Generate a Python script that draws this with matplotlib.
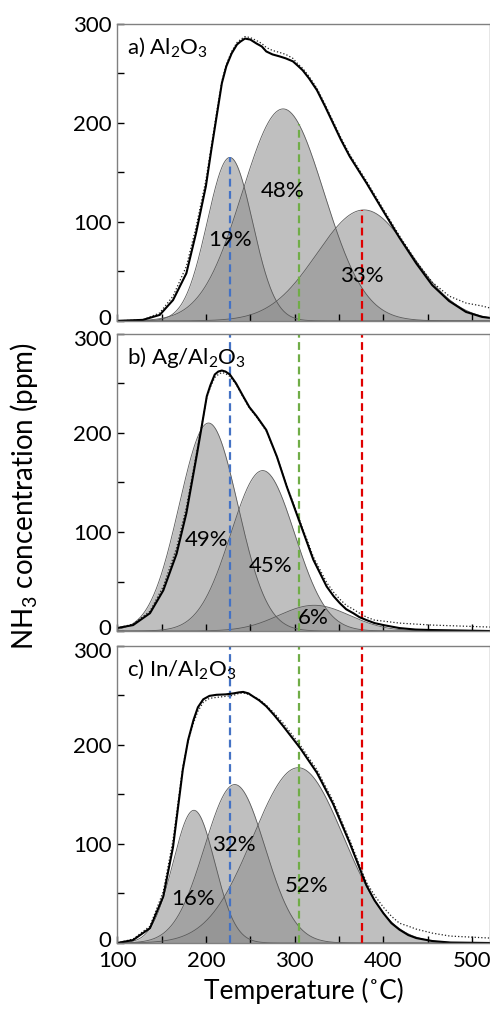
import numpy as np
import matplotlib.pyplot as plt
from matplotlib.transforms import offset_copy

plt.rcParams['font.family'] = ['Lato', 'DejaVu Sans']
plt.rcParams['mathtext.fontset'] = 'custom'
plt.rcParams['mathtext.rm'] = 'Lato'
plt.rcParams['mathtext.it'] = 'Lato:italic'

# ---------------- data ----------------
panel_titles = ['a) Al$_2$O$_3$', 'b) Ag/Al$_2$O$_3$', 'c) In/Al$_2$O$_3$']

# gaussian components: centre (C), height (ppm), sigma (C)
a_centers = [227, 287, 378]
a_heights = [165, 214, 112]
a_sigmas = [25.5, 46, 53]
a_shares = ['19%', '48%', '33%']
a_label_xy = [(227, 82), (286, 131), (376, 45)]

b_centers = [203, 264, 322]
b_heights = [210, 162, 26]
b_sigmas = [33, 36, 40]
b_shares = ['49%', '45%', '6%']
b_label_xy = [(201, 92), (273, 66), (321, 13)]

c_centers = [186.5, 232.5, 304]
c_heights = [134, 160, 177]
c_sigmas = [23.5, 34, 51]
c_shares = ['16%', '32%', '52%']
c_label_xy = [(186, 44), (232, 99), (313, 58)]

# total fit curve (solid) and measured signal (dotted)
a_T = [100, 129, 148, 163, 178, 189, 200, 206, 212, 218, 223, 229, 235, 239, 244,
       250, 257, 263, 268, 275, 283, 290, 298, 303, 309, 316, 325, 334, 343, 352,
       362, 381, 399, 418, 437, 455, 474, 493, 511, 520]
a_fit = [0, 1, 6, 21, 48, 89, 136, 172, 206, 240, 257, 270, 279, 282, 285,
         284, 280, 277, 272, 269, 267, 265, 262, 258, 253, 245, 233, 217, 200, 183,
         166, 139, 112, 84, 58, 36, 20, 9, 4, 3]
a_meas = [0, 1, 8, 25, 55, 95, 142, 176, 210, 242, 259, 272, 281, 284, 287,
          286, 283, 280, 276, 273, 271, 269, 265, 260, 255, 247, 235, 219, 202, 185,
          168, 141, 114, 86, 60, 39, 25, 18, 15, 13]

b_T = [100, 118, 137, 152, 167, 178, 190, 195, 201, 205, 210, 214, 218, 222, 227,
       234, 242, 249, 257, 268, 280, 291, 306, 321, 336, 344, 351, 358, 366, 373,
       381, 390, 400, 418, 436, 455, 520]
b_fit = [3, 6, 18, 41, 78, 119, 179, 205, 237, 248, 259, 262, 263, 262, 259,
         250, 237, 226, 217, 203, 176, 146, 109, 72, 45, 35, 28, 22, 18, 14,
         11, 8, 6, 3, 1.5, 1, 0]
b_meas = [3, 7, 20, 45, 84, 125, 182, 206, 236, 246, 256, 259, 261, 260, 257,
          249, 236, 225, 216, 202, 176, 147, 111, 75, 49, 39, 32, 26, 22, 18,
          14, 11, 10, 8, 7, 6, 4]

c_T = [100, 118, 137, 152, 163, 174, 180, 186, 191, 197, 204, 212, 222, 231, 237,
       242, 248, 253, 260, 268, 277, 287, 306, 325, 343, 362, 376, 381, 390, 400,
       409, 418, 428, 437, 455, 475, 520]
c_fit = [0, 3, 15, 47, 97, 175, 205, 225, 238, 246, 249.5, 250.6, 251, 252, 253,
         253.5, 252, 249, 245, 239, 230, 219, 197, 172, 141, 101, 69, 58, 43, 30,
         20, 13.5, 8, 5, 2, 0.5, 0]
c_meas = [0, 4, 17, 52, 104, 178, 204, 222, 234, 243, 247, 248, 249, 250, 252,
          252.5, 251, 249, 246, 240, 232, 222, 200, 175, 144, 104, 72, 61, 48, 36,
          27, 20, 17, 14, 10, 7, 5]

# reference desorption temperatures (dashed lines)
ref_T = [227, 304.5, 376]
ref_colors = ['#4472c4', '#70ad47', '#e00000']
a_ref_tops = [165, 199, 112]
bc_ref_tops = [300, 300, 300]

panels = [
    (a_centers, a_heights, a_sigmas, a_shares, a_label_xy, a_T, a_fit, a_meas, a_ref_tops),
    (b_centers, b_heights, b_sigmas, b_shares, b_label_xy, b_T, b_fit, b_meas, bc_ref_tops),
    (c_centers, c_heights, c_sigmas, c_shares, c_label_xy, c_T, c_fit, c_meas, bc_ref_tops),
]

# ---------------- figure ----------------
fig = plt.figure(figsize=(4.9, 10.09), dpi=100)
left, width, height = 0.239, 0.761, 0.2945
bottoms = [0.682, 0.3746, 0.0654]

T = np.linspace(100, 520, 600)
axes = []
for i, (cen, hgt, sig, shares, lab_xy, tT, fit, meas, tops) in enumerate(panels):
    ax = fig.add_axes([left, bottoms[i], width, height], sharex=axes[0] if axes else None)
    axes.append(ax)

    for c, h, s in zip(cen, hgt, sig):
        g = h * np.exp(-(T - c) ** 2 / (2 * s ** 2))
        ax.fill_between(T, 0, g, color='#8c8c8c', alpha=0.55, lw=0)
        ax.plot(T, g, color='#5a5a5a', lw=0.6)

    for x, top, col in zip(ref_T, tops, ref_colors):
        ax.plot([x, x], [0, top], color=col, lw=1.6, linestyle=(0, (3.5, 2)))

    ax.plot(tT, meas, color='#222222', lw=0.9, linestyle=':')
    ax.plot(tT, fit, color='black', lw=1.5)

    for txt, (x, y) in zip(shares, lab_xy):
        ax.text(x, y, txt, ha='center', va='center', fontsize=16)

    ax.text(0.027, 0.922, panel_titles[i], transform=ax.transAxes,
            ha='left', va='center', fontsize=16)

    ax.set_xlim(100, 520)
    ax.set_ylim(0, 300)
    ax.set_yticks([0, 100, 200, 300])
    ax.set_yticks([50, 150, 250], minor=True)
    ax.set_xticks([100, 200, 300, 400, 500])
    ax.set_xticks([150, 250, 350, 450], minor=True)
    ax.tick_params(which='both', direction='in', length=5, width=1, labelsize=16, pad=4)
    ax.tick_params(axis='x', pad=6)
    for sp in ax.spines.values():
        sp.set_color('#808080')
        sp.set_linewidth(1)
    if i < 2:
        ax.tick_params(labelbottom=False)

axes[-1].set_xlabel('Temperature (˚C)', fontsize=19, labelpad=5)
fig.text(0.05, 0.508, 'NH$_3$ concentration (ppm)', rotation=90,
         ha='center', va='center', fontsize=20)

# nudge the '0' / '300' labels where two panels meet so they do not collide
fig.canvas.draw()
for i, ax in enumerate(axes):
    ticks = ax.yaxis.get_major_ticks()
    lab = ticks[0].label1
    lab.set_transform(offset_copy(lab.get_transform(), fig=fig, y=4, units='dots'))
    if i > 0:
        lab = ticks[-1].label1
        lab.set_transform(offset_copy(lab.get_transform(), fig=fig, y=-4, units='dots'))

fig.savefig('out.png', dpi=100)
